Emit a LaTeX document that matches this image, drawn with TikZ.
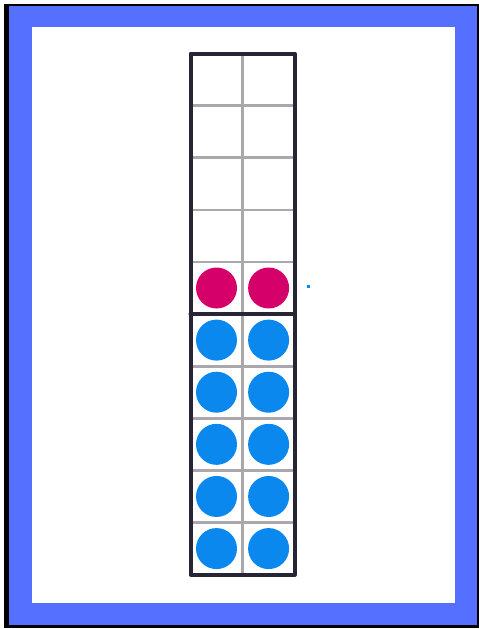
\documentclass[tikz,border=0pt]{standalone}
\begin{document}
\begin{tikzpicture}[x=1pt,y=-1pt,
  gridline/.style={draw=gridgray,line width=2.6pt},
  frameline/.style={draw=framedark,line width=4pt,line cap=round,line join=round},
  pinkdot/.style={circle,fill=dotpink,minimum size=41pt,inner sep=0pt},
  bluedot/.style={circle,fill=dotblue,minimum size=41pt,inner sep=0pt}]
\definecolor{framedark}{HTML}{262636}
\definecolor{gridgray}{HTML}{AAA8AD}
\definecolor{dotpink}{HTML}{D5006A}
\definecolor{dotblue}{HTML}{0A88EE}
\definecolor{borderblue}{HTML}{5570FF}
\useasboundingbox (0,0) rectangle (479,629);
\fill[white] (0,0) rectangle (479,629);
\fill[black] (3.5,3.5) rectangle (479,628);
\fill[borderblue] (8.5,6) rectangle (477,624.5);
\fill[white] (32,27) rectangle (455,603);
% grid lines
\foreach \i in {1,...,9} {
  \draw[gridline] (190.5,{53.5+52.12*\i}) -- (294.7,{53.5+52.12*\i});
}
\draw[gridline] (242.6,53.5) -- (242.6,574.7);
% dots
\foreach \r in {0,...,4} {
  \node[bluedot] (bl\r) at (216.5,{340.1+52.12*\r}) {};
  \node[bluedot] (br\r) at (268.6,{340.1+52.12*\r}) {};
}
\node[pinkdot] (pl) at (216.5,288) {};
\node[pinkdot] (pr) at (268.6,288) {};
% frame
\draw[frameline] (190.5,53.5) rectangle (294.7,574.7);
\draw[frameline] (190.5,314.1) -- (294.7,314.1);
% tiny mark
\fill[dotblue] (307,285.3) rectangle (310,288.3);
\end{tikzpicture}
\end{document}
